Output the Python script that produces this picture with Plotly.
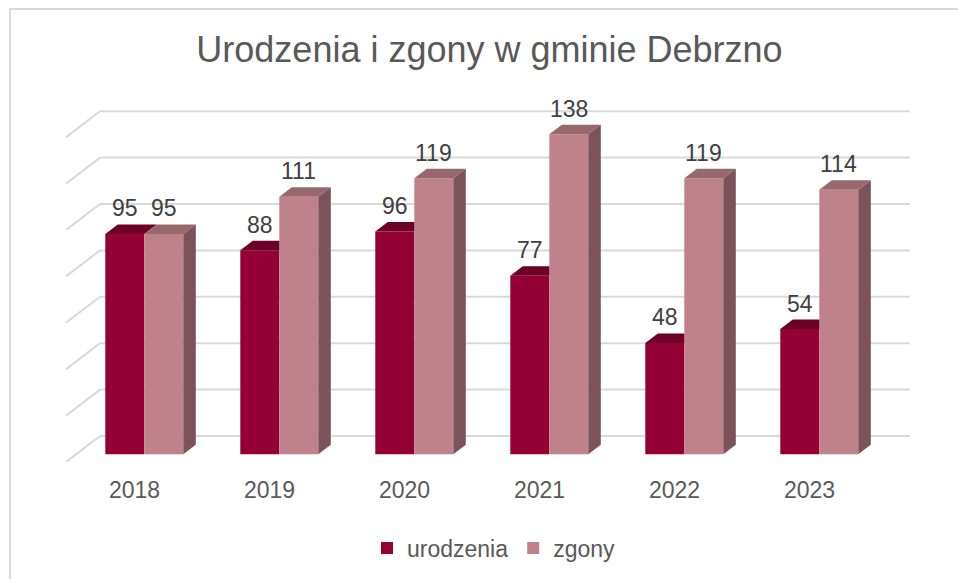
import plotly.graph_objects as go

# ---- data ----
years = ["2018", "2019", "2020", "2021", "2022", "2023"]
urodzenia = [95, 88, 96, 77, 48, 54]
zgony = [95, 111, 119, 138, 119, 114]
grid_values = [0, 20, 40, 60, 80, 100, 120, 140]
series_names = ["urodzenia", "zgony"]

# ---- style / geometry (pixel-derived constants) ----
W, H = 958, 579
PX_PER_CAT = 135.0          # px per category
PX_PER_UNIT = 2.32          # px per value unit
X0_PX, Y0_PX = 144.3, 454.3  # pixel position of category 0 / value 0 (front plane)

xmin = -X0_PX / PX_PER_CAT
xmax = xmin + W / PX_PER_CAT
ymax = Y0_PX / PX_PER_UNIT
ymin = ymax - H / PX_PER_UNIT

bw = 39 / PX_PER_CAT          # bar width (x units)
ddx = 12.5 / PX_PER_CAT       # bar depth offset x
ddy = 9.5 / PX_PER_UNIT       # bar depth offset y
wall_dy = (Y0_PX - 436) / PX_PER_UNIT
floor_dy = (462 - Y0_PX) / PX_PER_UNIT
wall_x0 = (100 - X0_PX) / PX_PER_CAT
wall_x1 = (910 - X0_PX) / PX_PER_CAT
floor_x = (66 - X0_PX) / PX_PER_CAT

c_u_front, c_u_top = "#950034", "#6c0026"
c_z_front, c_z_top, c_z_side = "#bf818b", "#98686f", "#7d535b"
grid_col = "#d9d9d9"
FONT = "Liberation Sans, Arial, sans-serif"

idx = list(range(len(years)))
fig = go.Figure()

# front faces as bars
fig.add_trace(go.Bar(x=[i - bw / 2 for i in idx], y=urodzenia, width=bw,
                     name=series_names[0], marker=dict(color=c_u_front, line=dict(width=0)),
                     hoverinfo="skip"))
fig.add_trace(go.Bar(x=[i + bw / 2 for i in idx], y=zgony, width=bw,
                     name=series_names[1], marker=dict(color=c_z_front, line=dict(width=0)),
                     hoverinfo="skip"))


def poly(xs, ys, color):
    fig.add_trace(go.Scatter(x=xs + [xs[0]], y=ys + [ys[0]], fill="toself", mode="lines",
                             line=dict(width=0, color=color), fillcolor=color,
                             showlegend=False, hoverinfo="skip"))


for i, u, z in zip(idx, urodzenia, zgony):
    # urodzenia top (clipped where the zgony front hides it)
    x0, x1 = i - bw, i
    zc = min(max(z, u), u + ddy)
    t = (zc - u) / ddy
    poly([x0, x1, x1, x1 + ddx * t, x1 + ddx, x0 + ddx],
         [u, u, zc, zc, u + ddy, u + ddy], c_u_top)
    # zgony top and side
    x0, x1 = i, i + bw
    poly([x0, x1, x1 + ddx, x0 + ddx], [z, z, z + ddy, z + ddy], c_z_top)
    poly([x1, x1 + ddx, x1 + ddx, x1], [0, ddy, z + ddy, z], c_z_side)

# gridlines on back wall + floor diagonal
shapes = []
for v in grid_values:
    shapes.append(dict(type="line", xref="x", yref="y", x0=floor_x, y0=v - floor_dy,
                       x1=wall_x0, y1=v + wall_dy, line=dict(color=grid_col, width=2),
                       layer="below"))
    shapes.append(dict(type="line", xref="x", yref="y", x0=wall_x0, y0=v + wall_dy,
                       x1=wall_x1, y1=v + wall_dy, line=dict(color=grid_col, width=2),
                       layer="below"))
# chart area border
shapes.append(dict(type="rect", xref="paper", yref="paper", x0=10 / W, x1=1.02,
                   y0=-0.02, y1=1 - 9 / H, line=dict(color=grid_col, width=2)))

annotations = []
for i, u, z in zip(idx, urodzenia, zgony):
    annotations.append(dict(x=i - bw / 2, y=u, text=str(u), showarrow=False, yshift=25.5,
                            yanchor="middle", font=dict(size=23, color="#404040", family=FONT)))
    annotations.append(dict(x=i + bw / 2, y=z, text=str(z), showarrow=False, yshift=25.5,
                            yanchor="middle", font=dict(size=23, color="#404040", family=FONT)))
for i, yr in zip(idx, years):
    annotations.append(dict(x=i - 10 / PX_PER_CAT, y=0, yshift=-(490 - Y0_PX), text=yr,
                            showarrow=False, yanchor="middle",
                            font=dict(size=23, color="#595959", family=FONT)))

fig.update_layout(
    width=W, height=H,
    margin=dict(l=0, r=0, t=0, b=0),
    paper_bgcolor="white", plot_bgcolor="white",
    barmode="overlay",
    title=dict(text="Urodzenia i zgony w gminie Debrzno", x=489.5 / W, xanchor="center",
               y=1 - 49.5 / H, yanchor="middle", xref="paper", yref="paper",
               font=dict(size=36, color="#595959", family=FONT)),
    xaxis=dict(range=[xmin, xmax], visible=False, fixedrange=True),
    yaxis=dict(range=[ymin, ymax], visible=False, fixedrange=True),
    legend=dict(orientation="h", x=494 / W, xanchor="center", y=1 - 548 / H, yanchor="middle",
                font=dict(size=23, color="#595959", family=FONT), bgcolor="rgba(0,0,0,0)",
                itemclick=False, itemdoubleclick=False),
    shapes=shapes,
    annotations=annotations,
    showlegend=True,
)

fig.write_html("out.html")
